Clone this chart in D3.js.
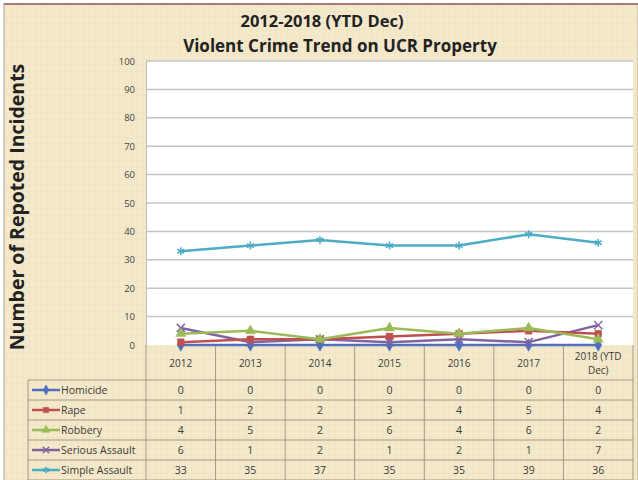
<!DOCTYPE html>
<html><head><meta charset="utf-8">
<script src="https://cdn.jsdelivr.net/npm/d3@7/dist/d3.min.js"></script>
<style>body{margin:0;background:#fff;} svg{display:block;}</style>
</head><body>
<svg id="c" width="638" height="480"></svg>
<script>
const categories = ["2012","2013","2014","2015","2016","2017","2018 (YTD Dec)"];
const seriesNames = ["Homicide","Rape","Robbery","Serious Assault","Simple Assault"];
const homicide = [0,0,0,0,0,0,0];
const rape = [1,2,2,3,4,5,4];
const robbery = [4,5,2,6,4,6,2];
const seriousAssault = [6,1,2,1,2,1,7];
const simpleAssault = [33,35,37,35,35,39,36];
const yTicks = [0,10,20,30,40,50,60,70,80,90,100];
const colors = ["#4f6fbf","#c0504d","#9bbb59","#8064a2","#4bacc6"];
const symbols = [d3.symbolDiamond, d3.symbolSquare, d3.symbolTriangle, d3.symbolX, d3.symbolAsterisk];
const seriesValues = [homicide, rape, robbery, seriousAssault, simpleAssault];

const svg = d3.select("#c");
const font = "'Open Sans', 'DejaVu Sans', sans-serif";
const L = 146, R = 633, T = 61, B = 345;
const x = d3.scaleBand().domain(categories).range([L, R]);
const y = d3.scaleLinear().domain([0,100]).range([B, T]);

// background
const defs = svg.append("defs");
const pat = defs.append("pattern").attr("id","grid").attr("width",6).attr("height",6).attr("patternUnits","userSpaceOnUse");
pat.append("rect").attr("width",6).attr("height",6).attr("fill","#f5e9cb");
pat.append("path").attr("d","M6 0V6M0 6H6").attr("stroke","#eedfbd").attr("stroke-width",1);
svg.append("rect").attr("x",0).attr("y",0).attr("width",638).attr("height",480).attr("fill","#fff");
svg.append("rect").attr("x",4).attr("y",4).attr("width",634).attr("height",480).attr("fill","url(#grid)")
  .attr("stroke","#c8bfae").attr("stroke-width",1.5);
svg.append("line").attr("x1",4).attr("x2",638).attr("y1",4).attr("y2",4).attr("stroke","#a77c72").attr("stroke-width",2);

// titles
svg.append("text").attr("x",322).attr("y",27).attr("text-anchor","middle").attr("font-family",font)
  .attr("font-weight","bold").attr("font-size",16.5).attr("fill","#222").text("2012-2018 (YTD Dec)");
svg.append("text").attr("x",340).attr("y",52).attr("text-anchor","middle").attr("font-family",font)
  .attr("font-weight","bold").attr("font-size",17).attr("fill","#222").text("Violent Crime Trend on UCR Property");

// plot area
svg.append("rect").attr("x",L).attr("y",T).attr("width",R-L).attr("height",B-T).attr("fill","#fff");

// gridlines
svg.append("g").selectAll("line").data(yTicks.slice(1)).join("line")
  .attr("x1",L).attr("x2",R).attr("y1",d=>y(d)).attr("y2",d=>y(d))
  .attr("stroke","#c4c4c4").attr("stroke-width",1.5);

// y axis
const yAxis = svg.append("g").attr("transform",`translate(${L},0)`)
  .call(d3.axisLeft(y).tickValues(yTicks).tickSize(0).tickPadding(11));
yAxis.select(".domain").attr("stroke","#bbb");
yAxis.selectAll("text").attr("font-family",font).attr("font-size",9.5).attr("fill","#444");

svg.append("text").attr("transform",`translate(24,${(T+B)/2+4}) rotate(-90)`).attr("text-anchor","middle")
  .attr("font-family",font).attr("font-weight","bold").attr("font-size",19.5).attr("fill","#222")
  .text("Number of Repoted Incidents");

// table
const tableTop = B, headerH = 35, rowH = 20, legL = 28;
const tg = svg.append("g");
const tableColor = "#8f8675";
const hLines = [tableTop + headerH];
for (let i=1;i<=seriesNames.length;i++) hLines.push(tableTop + headerH + i*rowH);
tg.selectAll("line.h").data(hLines).join("line").attr("class","h")
  .attr("x1",legL).attr("x2",R).attr("y1",d=>d).attr("y2",d=>d).attr("stroke",tableColor).attr("stroke-width",0.8);
const vX = categories.map(c=>x(c)).concat([R]);
tg.selectAll("line.v").data(vX).join("line").attr("class","v")
  .attr("x1",d=>d).attr("x2",d=>d).attr("y1",tableTop).attr("y2",480).attr("stroke",tableColor).attr("stroke-width",0.8);
tg.append("line").attr("x1",legL).attr("x2",legL).attr("y1",tableTop+headerH).attr("y2",480).attr("stroke",tableColor).attr("stroke-width",0.8);

const hdr = tg.selectAll("text.hdr").data(categories).join("text").attr("class","hdr")
  .attr("x",d=>x(d)+x.bandwidth()/2).attr("text-anchor","middle")
  .attr("font-family",font).attr("font-size",10).attr("fill","#3a3a3a");
hdr.each(function(d){
  const t = d3.select(this);
  if (d.indexOf("(")>0){
    t.append("tspan").attr("x",x(d)+x.bandwidth()/2).attr("y",tableTop+15).text("2018 (YTD");
    t.append("tspan").attr("x",x(d)+x.bandwidth()/2).attr("y",tableTop+29).text("Dec)");
  } else t.attr("y",tableTop+22).text(d);
});

seriesNames.forEach((name,i)=>{
  const cy = tableTop + headerH + i*rowH + rowH/2;
  tg.append("line").attr("x1",legL+4).attr("x2",legL+32).attr("y1",cy).attr("y2",cy)
    .attr("stroke",colors[i]).attr("stroke-width",2.5);
  tg.append("path").attr("d",d3.symbol().type(symbols[i]).size(28)())
    .attr("transform",`translate(${legL+18},${cy})`)
    .attr("fill",i>=3?"none":colors[i]).attr("stroke",colors[i]).attr("stroke-width",i>=3?1.5:0.5);
  tg.append("text").attr("x",legL+33).attr("y",cy+3.5).attr("font-family",font).attr("font-size",10.5)
    .attr("fill","#3a3a3a").text(name);
  tg.selectAll(null).data(seriesValues[i]).join("text")
    .attr("x",(d,j)=>x(categories[j])+x.bandwidth()/2).attr("y",cy+4).attr("text-anchor","middle")
    .attr("font-family",font).attr("font-size",10.5).attr("fill","#3a3a3a").text(d=>d);
});

// lines
const line = d3.line().x((d,j)=>x(categories[j])+x.bandwidth()/2).y(d=>y(d));
const order = [4,0,3,1,2];
order.forEach(i=>{
  const vals = seriesValues[i];
  svg.append("path").datum(vals).attr("d",line).attr("fill","none")
    .attr("stroke",colors[i]).attr("stroke-width",2.5).attr("stroke-linejoin","round");
  svg.append("g").selectAll("path").data(vals).join("path")
    .attr("d",d3.symbol().type(symbols[i]).size(45)())
    .attr("transform",(d,j)=>`translate(${x(categories[j])+x.bandwidth()/2},${y(d)})`)
    .attr("fill",i>=3?"none":colors[i]).attr("stroke",colors[i]).attr("stroke-width",i>=3?1.5:0.5);
});
</script>
</body></html>
